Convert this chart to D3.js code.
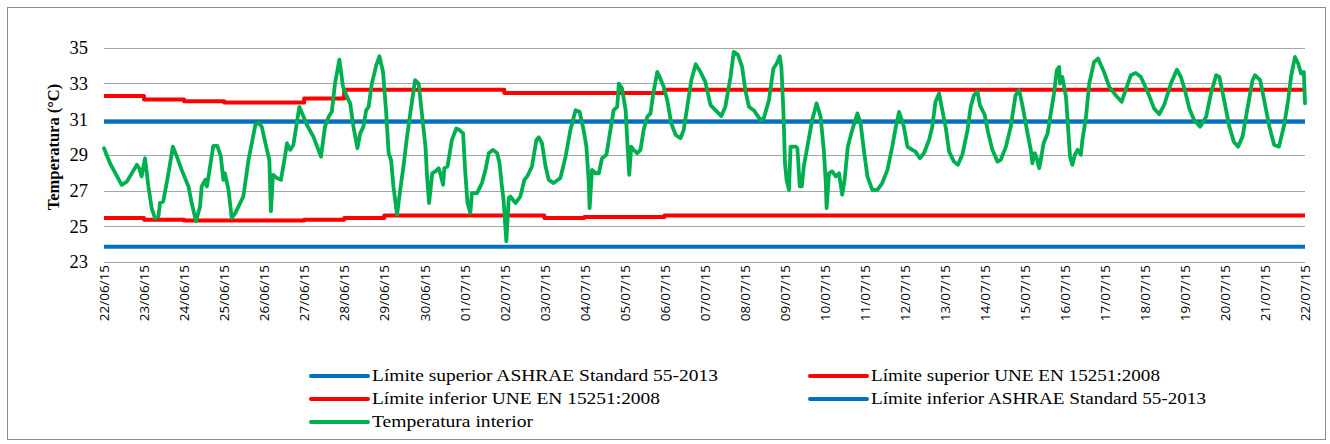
<!DOCTYPE html>
<html>
<head>
<meta charset="utf-8">
<script src="https://cdnjs.cloudflare.com/ajax/libs/d3/7.8.5/d3.min.js"></script>
<style>
  body { margin: 0; background: #fff; }
  #chart-container { width: 1330px; height: 444px; }
</style>
</head>
<body>
<div id="chart-container"></div>
<script>
// y ticks
var yTicks = [23, 25, 27, 29, 31, 33, 35];

// days since 22/06/15 for each daily step of the limit lines
var limitDays = d3.range(0, 31);

// Límite superior / inferior UNE EN 15251:2008 (one value per day)
var uneUpper = [32.3, 32.1, 32.0, 31.93, 31.93, 32.16, 32.65, 32.65, 32.65, 32.65,
                32.47, 32.47, 32.47, 32.47, 32.65, 32.65, 32.65, 32.65, 32.65, 32.65,
                32.65, 32.65, 32.65, 32.65, 32.65, 32.65, 32.65, 32.65, 32.65, 32.65, 32.65];
var uneLower = [25.46, 25.37, 25.32, 25.32, 25.32, 25.37, 25.46, 25.6, 25.6, 25.6,
                25.6, 25.47, 25.52, 25.52, 25.6, 25.6, 25.6, 25.6, 25.6, 25.6,
                25.6, 25.6, 25.6, 25.6, 25.6, 25.6, 25.6, 25.6, 25.6, 25.6, 25.6];

// ASHRAE Standard 55-2013 limits (constant)
var ashraeUpper = 30.86;
var ashraeLower = 23.85;

// Temperatura interior: time (days since 22/06/15) and value (°C)
var tempDay = [
  0, 0.15, 0.44, 0.57, 0.82, 0.88, 0.94, 1.025, 1.11, 1.19, 1.275, 1.36, 1.4, 1.48, 1.61, 1.72, 1.82, 1.94,
  2.11, 2.19, 2.3, 2.4, 2.44, 2.53, 2.57, 2.65, 2.73, 2.83, 2.92, 2.98, 3.02, 3.11, 3.19, 3.28, 3.4, 3.48,
  3.61, 3.78, 3.86, 3.94, 4.07, 4.13, 4.17, 4.22, 4.32, 4.42, 4.52, 4.57, 4.65, 4.73, 4.88,
  5.07, 5.23, 5.42, 5.52, 5.61, 5.69, 5.77, 5.88, 5.97, 6.07, 6.15, 6.23, 6.33, 6.4, 6.48, 6.55, 6.61,
  6.69, 6.8, 6.88, 6.97, 7.05, 7.11, 7.17, 7.23, 7.32, 7.4, 7.48, 7.57, 7.65, 7.77, 7.86, 7.94, 8.03,
  8.07, 8.12, 8.2, 8.28, 8.36, 8.4, 8.47, 8.5, 8.58, 8.69, 8.8, 8.88, 8.97, 9.02, 9.08, 9.15, 9.19,
  9.32, 9.44, 9.53, 9.61, 9.72, 9.82, 9.88, 9.94,
  9.98, 10.05, 10.11, 10.15, 10.28, 10.4, 10.5, 10.57, 10.69, 10.8, 10.86, 10.94, 11.03, 11.11, 11.23,
  11.4, 11.53, 11.65, 11.78, 11.88, 11.98, 12.05, 12.11, 12.13, 12.19, 12.28, 12.36, 12.44, 12.55, 12.65,
  12.73, 12.82, 12.86, 12.94, 13.03, 13.07, 13.12, 13.17, 13.23, 13.32, 13.4, 13.48, 13.57, 13.65, 13.72,
  13.82, 13.88, 13.98, 14.07, 14.17, 14.28, 14.4, 14.48, 14.57, 14.67, 14.78, 14.9,
  15.02, 15.15, 15.23, 15.42, 15.52, 15.65, 15.73, 15.83, 15.94, 16.02, 16.11, 16.23, 16.4, 16.48, 16.61,
  16.72, 16.8, 16.88, 16.92, 16.97, 17.01, 17.05, 17.11, 17.15, 17.28, 17.32, 17.38, 17.43, 17.48, 17.57,
  17.69, 17.8, 17.9, 17.98, 18.03, 18.05, 18.11, 18.19, 18.28, 18.36, 18.44, 18.5, 18.58, 18.69, 18.82,
  18.9, 18.98, 19.07, 19.19, 19.32, 19.44, 19.57, 19.69, 19.78, 19.86,
  19.98, 20.07, 20.19, 20.27, 20.38, 20.48, 20.61, 20.69, 20.77, 20.86, 20.94, 21.03, 21.11, 21.23, 21.33,
  21.44, 21.57, 21.65, 21.73, 21.82, 21.88, 22.0, 22.08, 22.19, 22.32, 22.4, 22.53, 22.65, 22.77, 22.86,
  22.94, 23.07, 23.15, 23.19, 23.25, 23.3, 23.36, 23.4, 23.47, 23.57, 23.65, 23.73, 23.8, 23.86, 23.88,
  23.94, 24.03, 24.08, 24.13, 24.19, 24.25, 24.32, 24.4, 24.44, 24.53, 24.61, 24.73, 24.83,
  24.98, 25.11, 25.27, 25.42, 25.52, 25.65, 25.77, 25.9, 26.07, 26.23, 26.36, 26.48, 26.65, 26.8, 26.9,
  27.0, 27.11, 27.23, 27.38, 27.53, 27.65, 27.78, 27.86, 27.98, 28.11, 28.22, 28.33, 28.44, 28.57, 28.69,
  28.75, 28.88, 28.98, 29.11, 29.23, 29.35, 29.48, 29.58, 29.65, 29.75, 29.83, 29.9, 29.97, 30.0
];
var tempC = [
  29.37, 28.53, 27.32, 27.5, 28.44, 28.25, 27.79, 28.81, 27.23, 26.02, 25.46, 25.56, 26.3, 26.39, 27.97, 29.46, 28.9, 28.16,
  27.23, 26.3, 25.28, 26.12, 27.23, 27.6, 27.23, 28.35, 29.5, 29.5, 28.9, 27.6, 27.97, 27.04, 25.46, 25.74, 26.3, 26.67,
  28.72, 30.67, 30.8, 30.58, 29.28, 28.72, 25.84, 27.88, 27.7, 27.6, 28.9, 29.65, 29.28, 29.55, 31.69,
  30.67, 30.02, 28.9, 30.58, 31.13, 31.41, 32.99, 34.33, 32.81, 32.25, 31.88, 30.58, 29.37, 30.2, 30.58, 31.5, 31.69,
  32.99, 34.01, 34.52, 33.64, 31.32, 29.09, 28.72, 27.23, 25.65, 27.04, 28.35, 30.02, 31.32, 33.18, 32.99, 31.32, 29.46,
  27.79, 26.3, 27.97, 28.07, 28.25, 27.97, 27.32, 28.25, 28.35, 29.83, 30.48, 30.39, 30.2, 28.16, 26.3, 25.74, 26.86,
  26.86, 27.42, 28.16, 29.09, 29.28, 29.09, 28.53, 27.23,
  26.49, 24.16, 26.58, 26.67, 26.3, 26.67, 27.6, 27.79, 28.35, 29.83, 29.98, 29.65, 28.35, 27.6, 27.42,
  27.7, 28.9, 30.39, 31.5, 31.41, 30.39, 29.46, 27.42, 26.02, 28.16, 27.97, 27.97, 28.81, 29.0, 30.39,
  31.5, 31.69, 32.99, 32.71, 31.5, 29.83, 27.88, 29.46, 29.28, 29.09, 29.28, 30.39, 31.13, 31.32, 32.43,
  33.64, 33.36, 32.81, 32.06, 30.76, 30.11, 29.93, 30.39, 31.69, 33.18, 34.07, 33.64,
  33.09, 31.78, 31.6, 31.17, 31.69, 33.36, 34.76, 34.63, 33.92, 32.62, 31.69, 31.5, 30.95, 31.04, 32.06,
  33.83, 34.1, 34.52, 33.92, 31.5, 28.53, 27.6, 27.04, 29.46, 29.46, 29.37, 27.23, 27.23, 28.35, 29.46,
  30.95, 31.88, 31.13, 29.28, 27.42, 26.02, 27.97, 28.07, 27.79, 27.97, 26.77, 27.6, 29.46, 30.39, 31.32,
  30.76, 29.28, 27.79, 27.04, 27.04, 27.42, 28.16, 29.46, 30.58, 31.41,
  30.58, 29.46, 29.28, 29.18, 28.81, 29.09, 29.83, 30.58, 31.97, 32.43, 31.5, 30.48, 29.18, 28.62, 28.44,
  29.0, 30.39, 31.69, 32.34, 32.53, 31.78, 31.23, 30.3, 29.28, 28.62, 28.72, 29.46, 30.58, 32.34, 32.62,
  31.78, 30.2, 29.28, 28.53, 29.09, 28.81, 28.25, 28.72, 29.65, 30.2, 31.32, 32.43, 33.74, 33.92, 32.99,
  33.36, 32.25, 30.58, 28.9, 28.44, 29.0, 29.28, 29.0, 29.83, 31.13, 32.99, 34.2, 34.39,
  33.64, 32.81, 32.34, 31.97, 32.62, 33.46, 33.59, 33.36, 32.53, 31.6, 31.28, 31.78, 32.99, 33.77, 33.36,
  32.62, 31.6, 30.95, 30.58, 31.13, 32.43, 33.46, 33.36, 32.06, 30.58, 29.74, 29.46, 30.02, 31.69, 33.18,
  33.46, 33.18, 32.06, 30.58, 29.55, 29.46, 30.67, 32.06, 33.36, 34.48, 34.11, 33.55, 33.64, 31.88
];

// legend entries (label, colour) in the order they appear
var legendLabels = [
  "Límite superior ASHRAE Standard 55-2013",
  "Límite superior UNE EN 15251:2008",
  "Límite inferior UNE EN 15251:2008",
  "Límite inferior ASHRAE Standard 55-2013",
  "Temperatura interior"
];
var legendColors = ["#0070C0", "#FF0000", "#FF0000", "#0070C0", "#00B050"];

var startDate = new Date(2015, 5, 22);
function dayToDate(d) { return new Date(startDate.getTime() + d * 86400000); }

var W = 1330, H = 444;
var plot = { left: 104, right: 1305, top: 47.7, bottom: 262 };
var serif = "'Liberation Serif', 'Times New Roman', serif";

var svg = d3.select("#chart-container")
  .append("svg")
  .attr("width", W)
  .attr("height", H);

// outer chart border
svg.append("rect")
  .attr("x", 7.5).attr("y", 7.5)
  .attr("width", 1318).attr("height", 432)
  .attr("fill", "#fff")
  .attr("stroke", "#8c8c8c")
  .attr("stroke-width", 1);

var xScale = d3.scaleTime()
  .domain([startDate, dayToDate(30)])
  .range([plot.left, plot.right]);

var yScale = d3.scaleLinear()
  .domain([23, 35])
  .range([plot.bottom, plot.top]);

// gridlines
svg.append("g")
  .selectAll("line")
  .data(yTicks)
  .join("line")
  .attr("x1", plot.left).attr("x2", plot.right)
  .attr("y1", function(d) { return Math.round(yScale(d)) + 0.5; })
  .attr("y2", function(d) { return Math.round(yScale(d)) + 0.5; })
  .attr("stroke", "#a6a6a6")
  .attr("stroke-width", 1.2);

// y axis labels
var yAxis = svg.append("g")
  .attr("transform", "translate(" + (plot.left - 16) + ",0)")
  .call(d3.axisLeft(yScale).tickValues(yTicks).tickSize(0).tickPadding(0));
yAxis.select(".domain").remove();
yAxis.selectAll("text")
  .attr("font-family", serif)
  .attr("font-size", "18.5px")
  .attr("fill", "#000");

svg.append("text")
  .attr("transform", "translate(59,147) rotate(-90)")
  .attr("text-anchor", "middle")
  .attr("font-family", serif)
  .attr("font-weight", "bold")
  .attr("font-size", "16.5px")
  .text("Temperatura (°C)");

// x axis labels (rotated dates)
var xAxis = svg.append("g")
  .attr("transform", "translate(0," + (plot.bottom + 3) + ")")
  .call(d3.axisBottom(xScale)
    .ticks(d3.timeDay.every(1))
    .tickFormat(d3.timeFormat("%d/%m/%y"))
    .tickSize(0).tickPadding(0));
xAxis.select(".domain").remove();
xAxis.selectAll("text")
  .attr("font-family", "'Open Sans', sans-serif")
  .attr("font-size", "13.5px")
  .attr("fill", "#000")
  .attr("text-anchor", "end")
  .attr("dy", "0.35em")
  .attr("transform", "rotate(-90)");

// lines
var lineW = 4;
var stepLine = d3.line()
  .x(function(d) { return xScale(dayToDate(d[0])); })
  .y(function(d) { return yScale(d[1]); })
  .curve(d3.curveStepAfter);

function drawFlat(v, color) {
  svg.append("path")
    .datum([[0, v], [30, v]])
    .attr("d", stepLine)
    .attr("fill", "none")
    .attr("stroke", color)
    .attr("stroke-width", lineW);
}

function drawSteps(values, color) {
  svg.append("path")
    .datum(limitDays.map(function(d, i) { return [d, values[i]]; }))
    .attr("d", stepLine)
    .attr("fill", "none")
    .attr("stroke", color)
    .attr("stroke-width", lineW)
    .attr("stroke-linejoin", "round");
}

drawFlat(ashraeUpper, legendColors[0]);
drawSteps(uneUpper, legendColors[1]);
drawSteps(uneLower, legendColors[2]);
drawFlat(ashraeLower, legendColors[3]);

var tempLine = d3.line()
  .x(function(d, i) { return xScale(dayToDate(tempDay[i])); })
  .y(function(d) { return yScale(d); });

svg.append("path")
  .datum(tempC)
  .attr("d", tempLine)
  .attr("fill", "none")
  .attr("stroke", legendColors[4])
  .attr("stroke-width", 3.8)
  .attr("stroke-linejoin", "round")
  .attr("stroke-linecap", "round");

// legend
var legendPos = [[311, 376], [810, 376], [311, 399], [810, 399], [311, 422]];
var legend = svg.append("g")
  .selectAll("g")
  .data(legendLabels)
  .join("g")
  .attr("transform", function(d, i) { return "translate(" + legendPos[i][0] + "," + legendPos[i][1] + ")"; });

legend.append("line")
  .attr("x1", 0).attr("x2", 57)
  .attr("stroke", function(d, i) { return legendColors[i]; })
  .attr("stroke-width", 4)
  .attr("stroke-linecap", "round");

legend.append("text")
  .attr("x", 61)
  .attr("dy", "0.33em")
  .attr("font-family", serif)
  .attr("font-size", "16.5px")
  .attr("transform", "scale(1,1)")
  .attr("textLength", function(d, i) { return [346, 289, 288, 335, 161][i]; })
  .attr("lengthAdjust", "spacingAndGlyphs")
  .attr("fill", "#000")
  .text(function(d) { return d; });
</script>
</body>
</html>
